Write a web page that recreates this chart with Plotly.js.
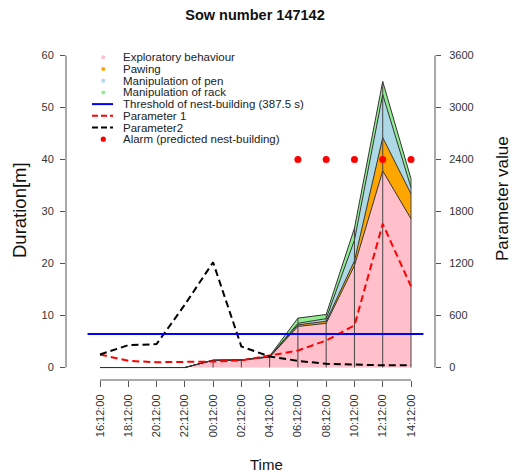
<!DOCTYPE html>
<html>
<head>
<meta charset="utf-8">
<script src="https://cdn.plot.ly/plotly-3.0.1.min.js"></script>
<style>html,body{margin:0;padding:0;background:#fff}#chart{width:515px;height:472px}</style>
</head>
<body>
<div id="chart"></div>
<script>
// ---- data ----
const times = ['16:12:00','18:12:00','20:12:00','22:12:00','00:12:00','02:12:00','04:12:00','06:12:00','08:12:00','10:12:00','12:12:00','14:12:00'];
const exploratory = [0, 0, 0, 0, 1.4, 1.45, 2.0, 7.9, 8.5, 19.6, 37.8, 28.6];
const pawing      = [0, 0, 0, 0, 0, 0, 0.05, 0.3, 0.4, 0.9, 6.4, 4.8];
const manipPen    = [0, 0, 0, 0, 0, 0, 0.05, 0.3, 0.5, 4.0, 8.3, 1.2];
const manipRack   = [0, 0, 0, 0, 0, 0, 0.1, 1.0, 0.8, 2.3, 2.5, 1.7];
const parameter1  = [150, 77, 61, 61, 69, 81, 135, 196, 312, 485, 1657, 936];
const parameter2  = [150, 258, 270, 725, 1214, 243, 127, 77, 43, 30, 25, 28];
const threshold = 387.5;            // seconds (right axis)
const alarmTimes = ['06:12:00','08:12:00','10:12:00','12:12:00','14:12:00'];
const alarmLevel = 40;              // drawn at 40 on the left axis
const legendLabels = ['Exploratory behaviour','Pawing','Manipulation of pen','Manipulation of rack',
  'Threshold of nest-building (387.5 s)','Parameter 1','Parameter2','Alarm (predicted nest-building)'];

// ---- layout helpers ----
const W = 515, H = 472, L = 66, R = 435, T = 43, B = 380;
const px = x => (x - L) / (R - L);
const py = y => (B - y) / (B - T);
const idx = times.map((_, i) => i);
const FONT = 'Liberation Sans, Arial, sans-serif';

const cPink = '#FFC0CB', cOrange = '#FFA500', cBlue = '#ADD8E6', cGreen = '#90EE90';
const edge = '#333333';

function area(y, color, name) {
  return {x: idx, y: y, type: 'scatter', mode: 'lines', stackgroup: 'act', fillcolor: color,
    line: {color: edge, width: 1}, name: name, hoverinfo: 'skip'};
}

// vertical separators at each time point with activity
const totals = idx.map(i => exploratory[i] + pawing[i] + manipPen[i] + manipRack[i]);
const vx = [], vy = [];
idx.forEach(i => { if (exploratory[i] > 0) { vx.push(i, i, null); vy.push(0, totals[i], null); } });

const traces = [
  area(exploratory, cPink, legendLabels[0]),
  area(pawing, cOrange, legendLabels[1]),
  area(manipPen, cBlue, legendLabels[2]),
  area(manipRack, cGreen, legendLabels[3]),
  {x: vx, y: vy, type: 'scatter', mode: 'lines', line: {color: '#444', width: 1}, hoverinfo: 'skip'},
  {x: idx, y: parameter1, yaxis: 'y2', type: 'scatter', mode: 'lines',
    line: {color: '#FF0000', width: 2, dash: '7px,4px'}, name: legendLabels[5]},
  {x: idx, y: parameter2, yaxis: 'y2', type: 'scatter', mode: 'lines',
    line: {color: '#000000', width: 2, dash: '7px,4px'}, name: legendLabels[6]},
  {x: alarmTimes.map(t => times.indexOf(t)), y: alarmTimes.map(() => alarmLevel), type: 'scatter', mode: 'markers',
    marker: {color: '#FF0000', size: 7}, name: legendLabels[7]}
];

const shapes = [
  // axis lines spanning first..last tick as in R
  {type: 'line', xref: 'paper', yref: 'y', x0: 0, x1: 0, y0: 0, y1: 60, line: {color: '#555', width: 1}},
  {type: 'line', xref: 'paper', yref: 'y2', x0: 1, x1: 1, y0: 0, y1: 3600, line: {color: '#555', width: 1}},
  {type: 'line', xref: 'x', yref: 'paper', x0: 0, x1: times.length - 1, y0: 0, y1: 0, line: {color: '#555', width: 1}},
  // threshold line across the plot region
  {type: 'line', xref: 'x', yref: 'y2', x0: -0.44, x1: times.length - 1 + 0.44, y0: threshold, y1: threshold,
    line: {color: '#0000FF', width: 2}}
];

const annotations = [
  {text: 'Duration[m]', xref: 'paper', yref: 'paper', x: px(19), y: py(210), textangle: -90,
    showarrow: false, xanchor: 'center', yanchor: 'middle', font: {family: FONT, size: 18.5, color: '#111'}},
  {text: 'Parameter value', xref: 'paper', yref: 'paper', x: px(502), y: py(199), textangle: -90,
    showarrow: false, xanchor: 'center', yanchor: 'middle', font: {family: FONT, size: 17, color: '#111'}},
  {text: 'Time', xref: 'paper', yref: 'paper', x: px(266), y: py(464),
    showarrow: false, xanchor: 'center', yanchor: 'middle', font: {family: FONT, size: 15, color: '#111'}}
];

// manual legend (R style, compact rows)
const legKinds = [
  {k: 'dot', c: cPink}, {k: 'dot', c: cOrange}, {k: 'dot', c: cBlue}, {k: 'dot', c: cGreen},
  {k: 'line', c: '#0000FF', d: 'solid'}, {k: 'line', c: '#FF0000', d: 'dash'},
  {k: 'line', c: '#000000', d: 'dash'}, {k: 'dot', c: '#FF0000', big: true}
];
legKinds.forEach((it, i) => {
  const yy = 57.3 + i * 11.7;
  annotations.push({text: legendLabels[i], xref: 'paper', yref: 'paper', x: px(121), y: py(yy),
    xanchor: 'left', yanchor: 'middle', showarrow: false, font: {family: FONT, size: 11.5, color: '#222'}});
  if (it.k === 'dot') {
    const r = it.big ? 2.6 : 2.0;
    shapes.push({type: 'circle', xref: 'paper', yref: 'paper', xsizemode: 'pixel', ysizemode: 'pixel',
      xanchor: px(103.3), yanchor: py(yy), x0: -r, x1: r, y0: -r, y1: r,
      fillcolor: it.c, line: {width: 0}});
  } else {
    shapes.push({type: 'line', xref: 'paper', yref: 'paper', x0: px(92), x1: px(113), y0: py(yy), y1: py(yy),
      line: {color: it.c, width: 2, dash: it.d === 'dash' ? '6px,3px' : 'solid'}});
  }
});

const xr0 = -(100 - L) / 28.27, xr1 = 11 + (R - 411) / 28.27;
const layout = {
  width: W, height: H,
  margin: {l: L, r: W - R, t: T, b: H - B, pad: 0},
  paper_bgcolor: '#fff', plot_bgcolor: '#fff',
  showlegend: false,
  font: {family: FONT, color: '#333'},
  title: {text: '<b>Sow number 147142</b>', x: 255 / W, xref: 'container', xanchor: 'center',
    y: 1 - 15 / H, yref: 'container', yanchor: 'middle', font: {family: FONT, size: 14.5, color: '#111'}},
  xaxis: {range: [xr0, xr1], tickvals: idx, ticktext: times, tickangle: -90, showgrid: false, zeroline: false,
    showline: false, ticks: 'outside', ticklen: 6, tickcolor: '#555', ticklabelstandoff: 3,
    tickfont: {family: FONT, size: 11, color: '#333'}, fixedrange: true},
  yaxis: {range: [-2.4, 62.4], tickvals: [0, 10, 20, 30, 40, 50, 60], showgrid: false, zeroline: false,
    showline: false, ticks: 'outside', ticklen: 5, tickcolor: '#555', ticklabelstandoff: 4,
    tickfont: {family: FONT, size: 11, color: '#333'}, fixedrange: true},
  yaxis2: {range: [-144, 3744], overlaying: 'y', side: 'right', tickvals: [0, 600, 1200, 1800, 2400, 3000, 3600],
    showgrid: false, zeroline: false, showline: false, ticks: 'outside', ticklen: 5, tickcolor: '#555',
    ticklabelstandoff: 6, tickfont: {family: FONT, size: 11, color: '#333'}, fixedrange: true},
  shapes: shapes,
  annotations: annotations
};

Plotly.newPlot('chart', traces, layout, {displayModeBar: false, staticPlot: true});
</script>
</body>
</html>
